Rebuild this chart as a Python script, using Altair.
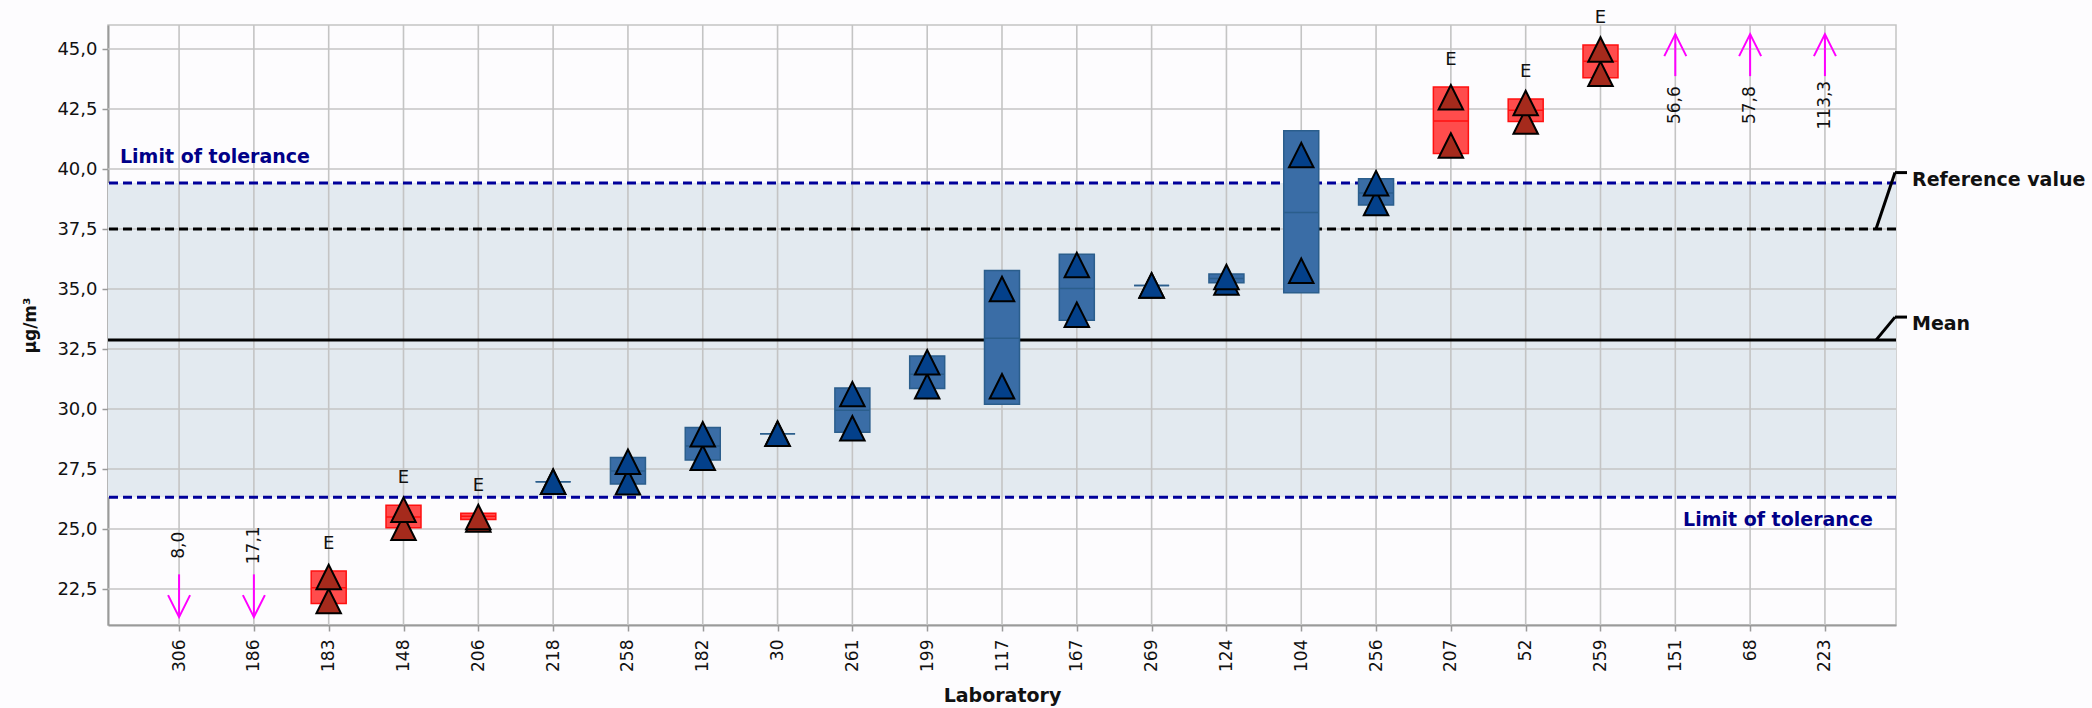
import altair as alt
import pandas as pd

# ---- data -----------------------------------------------------------------
labs = ["306", "186", "183", "148", "206", "218", "258", "182", "30", "261",
        "199", "117", "167", "269", "124", "104", "256", "207", "52", "259",
        "151", "68", "223"]

# laboratories with both replicates inside the displayed range
in_labs = ["183", "148", "206", "218", "258", "182", "30", "261", "199", "117",
           "167", "269", "124", "104", "256", "207", "52", "259"]
rep_low = [22.0, 25.05, 25.4, 26.97, 26.95, 27.97, 28.97, 29.2, 30.95, 30.95,
           33.93, 35.15, 35.27, 35.76, 38.58, 40.98, 41.98, 43.97]
rep_high = [23.0, 25.8, 25.5, 26.97, 27.8, 28.95, 28.97, 30.62, 31.95, 35.0,
            36.0, 35.15, 35.5, 40.58, 39.41, 42.99, 42.75, 44.98]
box_lo = [21.9, 25.05, 25.4, 26.97, 26.87, 27.87, 28.97, 29.03, 30.85, 30.2,
          33.7, 35.15, 35.26, 34.84, 38.5, 40.65, 41.98, 43.8]
box_hi = [23.25, 25.99, 25.66, 26.97, 27.98, 29.23, 28.97, 30.88, 32.21, 35.77,
          36.45, 35.15, 35.62, 41.59, 39.59, 43.42, 42.92, 45.17]
box_mid = [22.55, 25.5, 25.53, 26.97, 27.42, 28.46, 28.97, 29.95, 31.45, 32.95,
           35.02, 35.15, 35.44, 38.19, 39.0, 42.0, 42.45, 44.49]
flags = ["E", "E", "E", "", "", "", "", "", "", "", "", "", "", "", "", "E", "E", "E"]

# results outside the displayed range
low_labs = ["306", "186"]
low_vals = [8.0, 17.1]
high_labs = ["151", "68", "223"]
high_vals = [56.6, 57.8, 113.3]

mean_value = 32.87
reference_value = 37.5
tol_upper = 39.42
tol_lower = 26.32

y_ticks = [22.5, 25.0, 27.5, 30.0, 32.5, 35.0, 37.5, 40.0, 42.5, 45.0]
Y_MIN, Y_MAX = 21.0, 46.0

# ---- layout / style ---------------------------------------------------------
W, H = 1788, 600
PAD = {"left": 108, "top": 25, "right": 196, "bottom": 83}
FONT = "DejaVu Sans"
NAVY = "#00009a"
PALETTE = {
    "out": {"fill": "#ff4c4c", "line": "#ff1010", "tri": "#a52a1c"},
    "ok": {"fill": "#3a6da6", "line": "#2b5e8c", "tri": "#03408a"},
}
MAGENTA = "#ff00ff"
GRID = "#c4c4c4"

status = ["out" if f == "E" else "ok" for f in flags]
df_box = pd.DataFrame({"lab": in_labs, "lo": box_lo, "hi": box_hi,
                       "mid": box_mid, "flag": flags, "status": status})
df_box["fill_c"] = [PALETTE[s]["fill"] for s in status]
df_box["line_c"] = [PALETTE[s]["line"] for s in status]

df_pts = pd.concat([
    pd.DataFrame({"lab": in_labs, "val": rep_low, "status": status}),
    pd.DataFrame({"lab": in_labs, "val": rep_high, "status": status}),
], ignore_index=True)
df_pts["tri_c"] = [PALETTE[s]["tri"] for s in df_pts["status"]]


def fmt(v):
    return f"{v:.1f}".replace(".", ",")


# out-of-range arrows pinned near the plot edges
low_tip, low_tail, low_text = Y_MIN + 0.33, Y_MIN + 2.11, Y_MIN + 3.32
high_tip, high_tail, high_text = Y_MAX - 0.38, Y_MAX - 2.13, Y_MAX - 3.34
df_low = pd.DataFrame({"lab": low_labs, "tip": low_tip, "tail": low_tail,
                       "tpos": low_text, "txt": [fmt(v) for v in low_vals]})
df_high = pd.DataFrame({"lab": high_labs, "tip": high_tip, "tail": high_tail,
                        "tpos": high_text, "txt": [fmt(v) for v in high_vals]})

x_scale = alt.Scale(type="point", domain=labs, padding=0.95)
y_scale = alt.Scale(domain=[Y_MIN, Y_MAX], nice=False, zero=False)

x_axis = alt.Axis(labelAngle=-90, labelFont=FONT, labelFontSize=17, labelColor="#111",
                  labelPadding=8, tickSize=6, tickColor="#9a9a9a", tickWidth=1.5,
                  domainColor="#9a9a9a", domainWidth=2, grid=False,
                  titleFont=FONT, titleFontSize=19, titleFontWeight="bold",
                  titleColor="#111", titlePadding=15)
y_axis = alt.Axis(values=y_ticks,
                  labelExpr="replace(format(datum.value, '.1f'), '.', ',')",
                  labelFont=FONT, labelFontSize=18, labelColor="#111", labelPadding=5,
                  tickSize=6, tickColor="#9a9a9a", tickWidth=1.5,
                  domainColor="#9a9a9a", domainWidth=2, grid=False,
                  titleFont=FONT, titleFontSize=17, titleFontWeight="bold",
                  titleColor="#111", titlePadding=17)


def X(field="lab"):
    return alt.X(f"{field}:N", scale=x_scale, axis=x_axis, title="Laboratory", sort=labs)


def Y(field):
    return alt.Y(f"{field}:Q", scale=y_scale, axis=y_axis, title="μg/m³")


# ---- layers -----------------------------------------------------------------
band = alt.Chart(pd.DataFrame({"lo": [tol_lower], "hi": [tol_upper]})).mark_rect(
    color="#e3eaf0").encode(x=alt.value(0), x2=alt.value(W), y=Y("lo"), y2="hi")

grid_y = alt.Chart(pd.DataFrame({"v": y_ticks})).mark_rule(
    color=GRID, strokeWidth=1.6).encode(y=Y("v"))
grid_x = alt.Chart(pd.DataFrame({"lab": labs})).mark_rule(
    color=GRID, strokeWidth=1.6).encode(x=X())


def hline(value, color, dash=None):
    kw = dict(color=color, strokeWidth=3)
    if dash:
        kw["strokeDash"] = dash
    return alt.Chart(pd.DataFrame({"v": [value]})).mark_rule(**kw).encode(y=Y("v"))


lines = [
    hline(tol_upper, NAVY, [9, 5]),
    hline(tol_lower, NAVY, [9, 5]),
    hline(reference_value, "#000", [9, 5]),
    hline(mean_value, "#000"),
]

boxes = alt.Chart(df_box).mark_bar(width=35, strokeWidth=1.5, opacity=1).encode(
    x=X(), y=Y("lo"), y2="hi",
    fill=alt.Fill("fill_c:N", scale=None),
    stroke=alt.Stroke("line_c:N", scale=None))

mids = alt.Chart(df_box).mark_tick(size=35, thickness=1.5, opacity=1).encode(
    x=X(), y=Y("mid"), fill=alt.Fill("line_c:N", scale=None))

triangles = alt.Chart(df_pts).mark_point(
    shape="M0,-1L-1,1L1,1Z", size=600, filled=True, opacity=1,
    stroke="#000", strokeWidth=2).encode(
    x=X(), y=Y("val"), fill=alt.Fill("tri_c:N", scale=None))

e_labels = alt.Chart(df_box[df_box.flag != ""]).mark_text(
    font=FONT, fontSize=18, color="#111", dy=-27, baseline="middle").encode(
    x=X(), y=Y("hi"), text="flag:N")

# arrows for results below / above the range
low_shaft = alt.Chart(df_low).mark_rule(color=MAGENTA, strokeWidth=2).encode(
    x=X(), y=Y("tail"), y2="tip")
low_head = alt.Chart(df_low).mark_point(
    shape="M-1,-2L0,0L1,-2", size=484, filled=False, color=MAGENTA,
    strokeWidth=2, opacity=1).encode(x=X(), y=Y("tip"))
low_text_l = alt.Chart(df_low).mark_text(
    font=FONT, fontSize=17, color="#111", angle=270, align="center",
    baseline="middle").encode(x=X(), y=Y("tpos"), text="txt:N")

high_shaft = alt.Chart(df_high).mark_rule(color=MAGENTA, strokeWidth=2).encode(
    x=X(), y=Y("tail"), y2="tip")
high_head = alt.Chart(df_high).mark_point(
    shape="M-1,2L0,0L1,2", size=484, filled=False, color=MAGENTA,
    strokeWidth=2, opacity=1).encode(x=X(), y=Y("tip"))
high_text_l = alt.Chart(df_high).mark_text(
    font=FONT, fontSize=17, color="#111", angle=270, align="center",
    baseline="middle").encode(x=X(), y=Y("tpos"), text="txt:N")

# tolerance captions
tol_cap_top = alt.Chart(pd.DataFrame({"v": [tol_upper], "t": ["Limit of tolerance"]})).mark_text(
    font=FONT, fontSize=19, fontWeight="bold", color="#000088", align="left",
    baseline="middle", dy=-26).encode(x=alt.value(12), y=Y("v"), text="t:N")
tol_cap_bottom = alt.Chart(pd.DataFrame({"v": [tol_lower], "t": ["Limit of tolerance"]})).mark_text(
    font=FONT, fontSize=19, fontWeight="bold", color="#000088", align="right",
    baseline="middle", dy=23).encode(x=alt.value(W - 23), y=Y("v"), text="t:N")

# leader lines and captions for the reference value and mean
df_lead = pd.DataFrame({"v": [reference_value, mean_value],
                        "v2": [reference_value + 2.35, mean_value + 0.96],
                        "t": ["Reference value", "Mean"]})
leader = alt.Chart(df_lead).mark_rule(color="#000", strokeWidth=3).encode(
    x=alt.value(W - 20), x2=alt.value(W - 1), y=Y("v"), y2="v2")
stub = alt.Chart(df_lead).mark_rule(color="#000", strokeWidth=3).encode(
    x=alt.value(W - 1), x2=alt.value(W + 11), y=Y("v2"))
lead_text = alt.Chart(df_lead).mark_text(
    font=FONT, fontSize=19, fontWeight="bold", color="#111", align="left",
    baseline="middle", dy=7).encode(x=alt.value(W + 16), y=Y("v2"), text="t:N")

chart = alt.layer(
    band, grid_y, grid_x, *lines, boxes, mids, triangles, e_labels,
    low_shaft, low_head, low_text_l, high_shaft, high_head, high_text_l,
    tol_cap_top, tol_cap_bottom, leader, stub, lead_text,
).properties(
    width=W, height=H,
    padding=PAD,
    autosize=alt.AutoSizeParams(type="none"),
    background="#fdfcfe",
).configure_view(stroke="#c4c4c4", strokeWidth=1.5)

chart.save("out.html", embed_options={"renderer": "svg", "actions": False})
